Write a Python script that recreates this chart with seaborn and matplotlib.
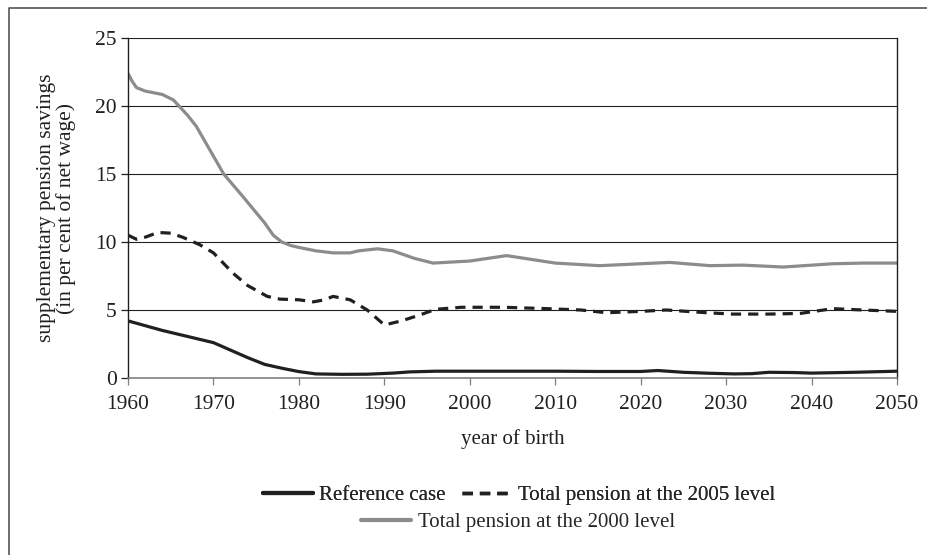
import matplotlib
matplotlib.use("Agg")
import matplotlib.pyplot as plt
import numpy as np
import pandas as pd
import seaborn as sns
from matplotlib.lines import Line2D

# values (year of birth -> per cent of net wage)
years_ref = [1960, 1962, 1964, 1966, 1968, 1970, 1972, 1974, 1976, 1978, 1980, 1982, 1985,
             1988, 1991, 1993, 1996, 2000, 2005, 2010, 2015, 2020, 2022, 2025, 2028, 2031,
             2033, 2035, 2038, 2040, 2045, 2050]
ref_case = [4.2, 3.85, 3.5, 3.2, 2.9, 2.6, 2.05, 1.5, 1.0, 0.72, 0.47, 0.3, 0.27,
            0.28, 0.36, 0.45, 0.5, 0.5, 0.5, 0.5, 0.48, 0.48, 0.55, 0.42, 0.35, 0.3,
            0.32, 0.42, 0.4, 0.36, 0.42, 0.5]

years_2005 = [1960, 1961, 1962, 1963.5, 1965, 1966.4, 1968.4, 1970, 1972.3, 1974, 1976.3,
              1977.8, 1980, 1981.7, 1983, 1984, 1986, 1988, 1990, 1992, 1994, 1996, 1999,
              2004, 2009, 2013, 2016, 2020, 2023, 2027.7, 2030.8, 2035, 2038.7, 2042.5,
              2046, 2050]
total_2005 = [10.5, 10.2, 10.35, 10.7, 10.65, 10.35, 9.8, 9.2, 7.7, 6.8, 6.0,
              5.8, 5.75, 5.6, 5.75, 6.0, 5.75, 5.0, 3.9, 4.2, 4.6, 5.05, 5.2,
              5.2, 5.1, 5.0, 4.8, 4.9, 5.0, 4.8, 4.7, 4.7, 4.75, 5.1,
              5.0, 4.9]

years_2000 = [1960, 1960.5, 1961, 1962, 1964, 1965.3, 1967, 1968, 1971.2, 1973.5, 1976,
              1977, 1978, 1979, 1980, 1982, 1984, 1986, 1987, 1989.2, 1991, 1993.5, 1995.7,
              2000, 2004.3, 2010, 2015.2, 2020, 2023.4, 2028.1, 2032, 2036.7, 2042.5,
              2046, 2050]
total_2000 = [22.4, 21.8, 21.35, 21.1, 20.85, 20.45, 19.3, 18.5, 15.0, 13.3, 11.4,
              10.5, 10.0, 9.75, 9.6, 9.35, 9.2, 9.2, 9.35, 9.5, 9.35, 8.8, 8.45,
              8.6, 9.0, 8.45, 8.26, 8.4, 8.5, 8.26, 8.3, 8.16, 8.4,
              8.45, 8.45]

x_ticks = list(range(1960, 2051, 10))
y_ticks = [0, 5, 10, 15, 20, 25]

df = pd.concat([
    pd.DataFrame({"year": years_ref, "value": ref_case, "series": "Reference case"}),
    pd.DataFrame({"year": years_2005, "value": total_2005, "series": "Total pension at the 2005 level"}),
    pd.DataFrame({"year": years_2000, "value": total_2000, "series": "Total pension at the 2000 level"}),
])

sns.set_style("white")
plt.rcParams["font.family"] = ["Liberation Serif", "DejaVu Serif"]

fig = plt.figure(figsize=(9.27, 5.55), dpi=100)
ax = fig.add_axes([128 / 927, 1 - 378 / 555, (897 - 128) / 927, (378 - 38) / 555])

colors = {"Reference case": "#231f20",
          "Total pension at the 2005 level": "#231f20",
          "Total pension at the 2000 level": "#8c8c8c"}
dashes = {"Reference case": "",
          "Total pension at the 2005 level": (3.2, 2.2),
          "Total pension at the 2000 level": ""}

for y in y_ticks[1:]:
    ax.axhline(y, color="#231f20", lw=0.8, zorder=0)

sns.lineplot(data=df, x="year", y="value", hue="series", style="series",
             palette=colors, dashes=dashes, linewidth=2.3, estimator=None,
             sort=True, legend=False, ax=ax)

ax.set_xlim(1960, 2050)
ax.set_ylim(0, 25)
ax.set_xticks(x_ticks)
ax.set_yticks(y_ticks)
ax.tick_params(axis="both", labelsize=15.5, colors="#231f20", length=5, width=0.9,
               direction="out", bottom=True, left=True)
ax.tick_params(axis="x", pad=7, colors="#7f7f7f", labelcolor="#231f20")
ax.tick_params(axis="y", pad=3)
for side in ["left", "right"]:
    ax.spines[side].set_color("#231f20")
    ax.spines[side].set_linewidth(1.0)
ax.spines["top"].set_visible(False)
ax.spines["bottom"].set_color("#7f7f7f")
ax.spines["bottom"].set_linewidth(1.2)

ax.set_xlabel("year of birth", fontsize=15, color="#231f20", labelpad=11)
ax.set_ylabel("supplementary pension savings\n(in per cent of net wage)", fontsize=15.5,
              color="#231f20", labelpad=14, linespacing=1.0)

h1 = [Line2D([], [], color="#231f20", lw=3),
      Line2D([], [], color="#231f20", lw=2.5, dashes=(3, 2))]
leg1 = fig.legend(h1, ["Reference case", "Total pension at the 2005 level"], ncol=2,
                  loc="center", bbox_to_anchor=(519 / 927, 1 - 495 / 555), frameon=False,
                  fontsize=15, handlelength=2.4, handletextpad=0.3, columnspacing=0.8,
                  borderaxespad=0)
h2 = [Line2D([], [], color="#8c8c8c", lw=3)]
leg2 = fig.legend(h2, ["Total pension at the 2000 level"], loc="center",
                  bbox_to_anchor=(518 / 927, 1 - 522 / 555), frameon=False,
                  fontsize=15, handlelength=2.4, handletextpad=0.3, borderaxespad=0)
fig.add_artist(leg1)

# outer frame (top and left edges visible in the reference)
fig.add_artist(Line2D([9 / 927, 9 / 927, 1.0], [0.0, 1 - 8 / 555, 1 - 8 / 555],
                      transform=fig.transFigure, color="#555555", lw=1.2))

fig.savefig("out.png", dpi=100)
